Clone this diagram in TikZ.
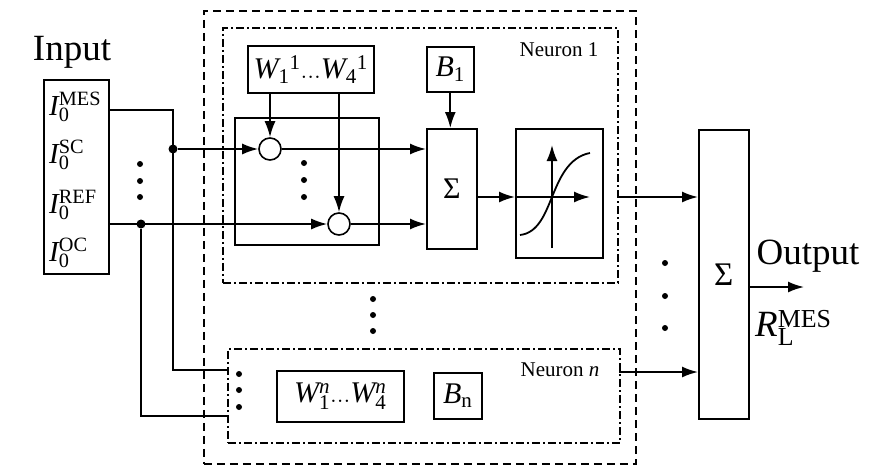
\documentclass[tikz,border=0pt]{standalone}
\usepackage{fontspec}
\setmainfont{Liberation Serif}
\usetikzlibrary{arrows.meta}
\begin{document}
\begin{tikzpicture}[x=1pt,y=-1pt,
  box/.style={draw, line width=1.6pt, inner sep=0pt, anchor=north west},
  arr/.style={-{Latex[length=16pt,width=11pt]}, line width=1.8pt},
  ln/.style={line width=1.8pt},
  dashbox/.style={draw, line width=1.7pt, dash pattern=on 8pt off 5pt, anchor=north west, inner sep=0pt},
  dotbox/.style={draw, line width=1.6pt, dash pattern=on 8pt off 3pt on 2pt off 3pt, anchor=north west, inner sep=0pt},
  junc/.style={circle, fill, inner sep=0pt, minimum size=9pt},
  dotm/.style={circle, fill, inner sep=0pt, minimum size=6pt},
  mult/.style={circle, draw, line width=1.6pt, minimum size=22pt, inner sep=0pt, fill=white},
  big/.style={font=\fontsize{37}{40}\selectfont},
  lab/.style={font=\fontsize{29}{32}\selectfont, inner sep=0pt, anchor=base west},
  wlab/.style={font=\fontsize{30}{32}\selectfont},
  sigf/.style={font=\fontsize{30}{32}\selectfont},
  nlab/.style={font=\fontsize{21}{24}\selectfont},
  ]
\useasboundingbox (0,0) rectangle (872,466);

% frames
\node[dashbox, minimum width=432pt, minimum height=453pt] (outer) at (203,10) {};
\node[dotbox, minimum width=395pt, minimum height=255pt] (n1) at (222,27) {};
\node[dotbox, minimum width=392pt, minimum height=94pt] (nn) at (227,348) {};

% input
\node[big] (inlab) at (72,52) {Input};
\node[box, minimum width=65pt, minimum height=194pt] (inbox) at (43,79) {};
\node[lab] (i1) at (49,115) {$\mathit{I}_{\mathrm{0}}^{\mathrm{MES}}$};
\node[lab] (i2) at (49,163) {$\mathit{I}_{\mathrm{0}}^{\mathrm{SC}}$};
\node[lab] (i3) at (49,213) {$\mathit{I}_{\mathrm{0}}^{\mathrm{REF}}$};
\node[lab] (i4) at (49,261) {$\mathit{I}_{\mathrm{0}}^{\mathrm{OC}}$};

% neuron 1
\node[box, minimum width=126pt, minimum height=47pt, wlab] (wbox) at (247,45) {$\mathit{W}_{\mathrm{1}}{}^{\mathrm{1}}\mathrm{...}\mathit{W}_{\mathrm{4}}{}^{\mathrm{1}}$};
\node[box, minimum width=144pt, minimum height=127pt] (wgt) at (234,117) {};
\node[mult] (m1) at (270,149) {};
\node[mult] (m2) at (339,224) {};
\node[box, minimum width=50pt, minimum height=120pt, sigf] (sig) at (426,128) {Σ};
\node[box, minimum width=47pt, minimum height=45pt, wlab] (b1) at (426,46) {$\mathit{B}_{\mathrm{1}}$};
\node[box, minimum width=87pt, minimum height=129pt] (act) at (515,128) {};
\node[nlab] (t1) at (559,50) {Neuron 1};

% neuron n
\node[box, minimum width=127pt, minimum height=51pt, wlab] (wn) at (276,370) {$\mathit{W}_{\mathrm{1}}^{\mathit{n}}\mathrm{...}\mathit{W}_{\mathrm{4}}^{\mathit{n}}$};
\node[box, minimum width=48pt, minimum height=46pt, wlab] (bn) at (433,372) {$\mathit{B}_{\mathrm{n}}$};
\node[nlab] (tn) at (560,370) {Neuron \textit{n}};

% output
\node[box, minimum width=50pt, minimum height=289pt, font=\fontsize{33}{36}\selectfont] (bigsig) at (698,129) {Σ};
\node[big] (outlab) at (808,256) {Output};
\node[font=\fontsize{37}{40}\selectfont, anchor=west, inner sep=0pt] (rl) at (755,328) {$\mathit{R}_{\mathrm{L}}^{\mathrm{MES}}$};
\coordinate (oend) at (804,287);

% dots
\foreach \y in {164,181,197} \node[dotm] at (140,\y) {};
\foreach \y in {163,180,197} \node[dotm] at (304,\y) {};
\foreach \y in {299,315,331} \node[dotm] at (373,\y) {};
\foreach \y in {374,390,407} \node[dotm] at (239,\y) {};
\foreach \y in {263,296,328} \node[dotm] at (665,\y) {};

% input wiring
\coordinate (a1) at (173,110);
\coordinate (a2) at (173,370);
\node[junc] (j1) at (173,149) {};
\node[junc] (j2) at (141,224) {};
\coordinate (b2) at (141,416);
\draw[ln] (inbox.east |- a1) -- (a1) -- (a2) -- (nn.west |- a2);
\draw[ln] (j2) -- (b2) -- (nn.west |- b2);
\draw[arr] (j1) -- (m1.west);
\draw[arr] (inbox.east |- j2) -- (m2.west);
\draw[arr] (m1.east) -- (sig.west |- m1);
\draw[arr] (m2.east) -- (sig.west |- m2);
\draw[arr] (wbox.south -| m1) -- (m1.north);
\draw[arr] (wbox.south -| m2) -- (m2.north);
\draw[arr] (b1.south) -- (b1.south |- sig.north);

% sigma -> activation
\coordinate (s1) at (476,197);
\draw[arr] (s1) -- (act.west |- s1);
\coordinate (ax0) at (552,248);
\coordinate (ax1) at (552,145);
\coordinate (ay1) at (590,197);
\draw[arr] (ax0) -- (ax1);
\draw[arr] (act.west |- s1) -- (ay1);
\coordinate (c0) at (520,235);
\coordinate (c1) at (552,197);
\coordinate (c2) at (590,153);
\draw[line width=1.8pt] (c0) .. controls (538,233) and (545,214) .. (c1) .. controls (559,180) and (568,157) .. (c2);

% outputs
\coordinate (o1) at (617,197);
\coordinate (o2) at (619,372);
\draw[arr] (o1) -- (bigsig.west |- o1);
\draw[arr] (o2) -- (bigsig.west |- o2);
\draw[arr] (bigsig.east |- oend) -- (oend);
\end{tikzpicture}
\end{document}
